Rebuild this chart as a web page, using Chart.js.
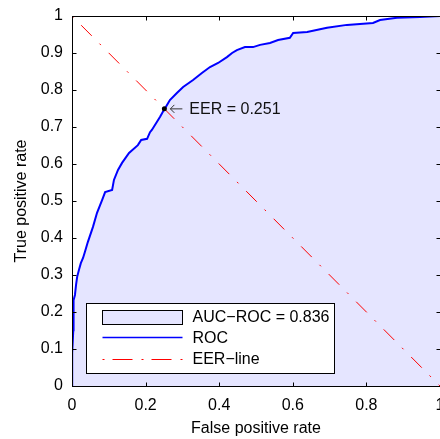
<!DOCTYPE html>
<html>
<head>
<meta charset="utf-8">
<script src="https://cdn.jsdelivr.net/npm/chart.js@4"></script>
<style>
html, body { margin: 0; padding: 0; overflow: hidden; background: #fff; }
#roc { display: block; width: 440px; height: 439px; }
</style>
</head>
<body>
<canvas id="roc" width="440" height="439"></canvas>
<script>
// ROC curve
const rocFpr = [0, 0, 0.001, 0.0035, 0.0035, 0.005, 0.008, 0.011, 0.014, 0.019, 0.024, 0.030, 0.035, 0.043, 0.057,
  0.068, 0.082, 0.090, 0.109, 0.114, 0.125, 0.136, 0.155, 0.179, 0.188, 0.204, 0.212, 0.217, 0.239, 0.247,
  0.255, 0.266, 0.285, 0.302, 0.329, 0.353, 0.375, 0.397, 0.421, 0.435, 0.448, 0.470, 0.492, 0.511, 0.538,
  0.560, 0.592, 0.601, 0.639, 0.693, 0.747, 0.818, 0.837, 0.883, 0.946, 1];
const rocTpr = [0, 0.07, 0.089, 0.151, 0.205, 0.232, 0.246, 0.273, 0.295, 0.314, 0.332, 0.346, 0.362, 0.389, 0.430,
  0.468, 0.503, 0.524, 0.530, 0.557, 0.584, 0.603, 0.630, 0.651, 0.665, 0.668, 0.686, 0.692, 0.727, 0.741,
  0.754, 0.773, 0.792, 0.808, 0.827, 0.846, 0.862, 0.873, 0.889, 0.900, 0.908, 0.916, 0.916, 0.922, 0.927,
  0.935, 0.941, 0.954, 0.957, 0.968, 0.976, 0.981, 0.989, 0.995, 0.997, 1];

const eerLineX = [0, 1];
const eerLineY = [1, 0];
const eerX = [0.251];
const eerY = [0.749];
const eerValue = 0.251;
const aucValue = 0.836;

const xTicks = [0, 0.2, 0.4, 0.6, 0.8, 1];
const yTicks = [0, 0.1, 0.2, 0.3, 0.4, 0.5, 0.6, 0.7, 0.8, 0.9, 1];

const FONT = "'Liberation Sans', Arial, sans-serif";
Chart.defaults.font.family = FONT;
Chart.defaults.font.size = 16;
Chart.defaults.color = '#000';

const toPts = (xs, ys) => xs.map((x, i) => ({ x: x, y: ys[i] }));
const dashDot = [2, 11, 15, 11];
const noPad = () => ({ left: 0, top: 0, right: 0, bottom: 0 });

// box, inside ticks, legend and EER note (MATLAB look)
const matlabBox = {
    id: 'matlabBox',
    afterDraw(chart) {
        const c = chart.ctx;
        const a = chart.chartArea;
        const sx = chart.scales.x, sy = chart.scales.y;
        const L = Math.round(a.left) + 0.5, R = Math.round(a.right) + 0.5;
        const T = Math.round(a.top) + 0.5, B = Math.round(a.bottom) + 0.5;
        c.save();
        c.strokeStyle = '#000';
        c.lineWidth = 1;
        c.strokeRect(L, T, R - L, B - T);
        c.beginPath();
        xTicks.forEach(v => {
            const p = Math.round(sx.getPixelForValue(v)) + 0.5;
            c.moveTo(p, B); c.lineTo(p, B - 4);
            c.moveTo(p, T); c.lineTo(p, T + 4);
        });
        yTicks.forEach(v => {
            const p = Math.round(sy.getPixelForValue(v)) + 0.5;
            c.moveTo(L, p); c.lineTo(L + 4, p);
            c.moveTo(R, p); c.lineTo(R - 4, p);
        });
        c.stroke();

        // EER annotation: arrow + text
        const px = sx.getPixelForValue(eerX[0]), py = sy.getPixelForValue(eerY[0]);
        c.strokeStyle = '#333';
        c.beginPath();
        c.moveTo(px + 6, py); c.lineTo(px + 18, py);
        c.moveTo(px + 10, py - 4); c.lineTo(px + 6, py); c.lineTo(px + 10, py + 4);
        c.stroke();
        c.fillStyle = '#111';
        c.font = '16px ' + FONT;
        c.textAlign = 'left';
        c.textBaseline = 'middle';
        c.fillText('EER = ' + eerValue.toFixed(3), px + 25, py + 1);

        // legend
        c.strokeStyle = '#000';
        const lx = L + 14, ly = B - 83, lw = 248, lh = 70;
        c.fillStyle = '#fff';
        c.fillRect(lx, ly, lw, lh);
        c.strokeRect(lx, ly, lw, lh);
        const roc = chart.data.datasets[2], eerLine = chart.data.datasets[1];
        const sx0 = lx + 16, sx1 = lx + 96, tx = lx + 106;
        c.fillStyle = roc.backgroundColor;
        c.fillRect(sx0, ly + 7, sx1 - sx0, 14);
        c.strokeRect(sx0, ly + 7, sx1 - sx0, 14);
        c.beginPath();
        c.strokeStyle = roc.borderColor;
        c.lineWidth = 1.5;
        c.moveTo(sx0, ly + 34); c.lineTo(sx1, ly + 34);
        c.stroke();
        c.beginPath();
        c.strokeStyle = eerLine.borderColor;
        c.lineWidth = 1;
        c.setLineDash([2, 8, 20, 9]);
        c.moveTo(sx0, ly + 56); c.lineTo(sx1, ly + 56);
        c.stroke();
        c.setLineDash([]);
        c.fillStyle = '#000';
        c.fillText('AUC\u2212ROC = ' + aucValue.toFixed(3), tx, ly + 14);
        c.fillText(roc.label, tx, ly + 35);
        c.fillText(eerLine.label, tx, ly + 56);
        c.restore();
    }
};

const ctx = document.getElementById('roc').getContext('2d');

new Chart(ctx, {
    type: 'line',
    data: {
        datasets: [
            {
                label: 'EER',
                data: toPts(eerX, eerY),
                showLine: false,
                pointRadius: 2.5,
                pointBackgroundColor: '#000',
                pointBorderColor: '#000',
                pointBorderWidth: 0
            },
            {
                label: 'EER\u2212line',
                data: toPts(eerLineX, eerLineY),
                borderColor: '#ff0000',
                borderWidth: 1,
                borderDash: dashDot,
                pointRadius: 0,
                fill: false
            },
            {
                label: 'ROC',
                data: toPts(rocFpr, rocTpr),
                borderColor: '#0000ff',
                borderWidth: 2,
                backgroundColor: '#e5e5ff',
                pointRadius: 0,
                tension: 0,
                fill: 'origin'
            }
        ]
    },
    options: {
        responsive: false,
        animation: false,
        layout: { autoPadding: false, padding: { top: 16, right: 0, left: 0, bottom: 0 } },
        scales: {
            x: {
                type: 'linear',
                min: 0, max: 1,
                grid: { display: false, drawTicks: false },
                border: { display: false },
                afterBuildTicks: s => { s.ticks = xTicks.map(v => ({ value: v })); },
                afterFit: s => { s.height = 53; s.paddingRight = 0; s.paddingLeft = 0; s.getPadding = noPad; },
                ticks: { padding: 10, maxRotation: 0, autoSkip: false, callback: v => String(v) },
                title: { display: true, text: 'False positive rate', padding: { top: 0, bottom: 1 } }
            },
            y: {
                type: 'linear',
                min: 0, max: 1,
                grid: { display: false, drawTicks: false },
                border: { display: false },
                afterBuildTicks: s => { s.ticks = yTicks.map(v => ({ value: v })); },
                afterFit: s => { s.width = 72; s.getPadding = noPad; },
                ticks: { padding: 9, autoSkip: false, callback: v => String(v) },
                title: { display: true, text: 'True positive rate', padding: { top: 12, bottom: 0 } }
            }
        },
        plugins: {
            legend: { display: false },
            tooltip: { enabled: false },
            filler: { propagate: false, drawTime: 'beforeDatasetsDraw' }
        }
    },
    plugins: [matlabBox]
});
</script>
</body>
</html>
